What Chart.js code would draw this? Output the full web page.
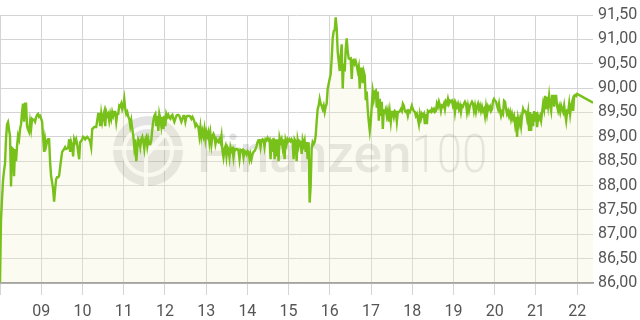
<!DOCTYPE html>
<html>
<head>
<meta charset="utf-8">
<script src="https://cdn.jsdelivr.net/npm/chart.js@4"></script>
<style>
  html, body { margin: 0; padding: 0; background: #fff; }
</style>
</head>
<body>
<canvas id="kurs" width="640" height="320"></canvas>
<script>
// Intraday-Kurs, ein Wert alle 87,5 Sekunden ab 08:00
const startHour = 8;
const sampleSeconds = 87.5;
const prices = [
  86.02, 87.30, 87.71, 88.10, 88.30, 88.45, 88.95, 89.25, 89.30, 89.15,
  89.02, 87.98, 88.77, 88.75, 88.19, 88.75, 88.50, 88.81, 89.02, 88.95,
  89.16, 89.26, 89.51, 89.68, 89.31, 89.68, 89.68, 89.22, 89.15, 89.10,
  89.31, 89.16, 89.37, 89.35, 89.35, 89.31, 89.40, 89.45, 89.47, 89.41,
  89.43, 89.38, 89.31, 89.00, 88.69, 88.95, 88.81, 88.90, 88.95, 88.95,
  88.48, 88.19, 88.07, 87.92, 87.67, 87.92, 88.13, 88.17, 88.17, 88.20,
  88.38, 88.54, 88.69, 88.72, 88.75, 88.79, 88.75, 88.76, 88.77, 88.95,
  88.69, 88.89, 88.81, 88.60, 88.95, 88.89, 88.95, 88.85, 88.69, 88.54,
  88.89, 88.91, 88.95, 89.00, 88.98, 88.95, 88.98, 89.00, 88.97, 88.95,
  88.90, 88.79, 89.16, 89.18, 89.20, 89.20, 89.20, 89.33, 89.47, 89.47,
  89.22, 89.47, 89.31, 89.43, 89.51, 89.22, 89.51, 89.43, 89.47, 89.33,
  89.47, 89.37, 89.51, 89.43, 89.51, 89.51, 89.31, 89.47, 89.47, 89.64,
  89.62, 89.68, 89.57, 89.64, 89.78, 89.57, 89.47, 89.51, 89.41, 89.37,
  89.22, 89.33, 89.16, 89.02, 88.79, 88.95, 88.50, 88.75, 88.95, 88.91,
  88.79, 88.95, 89.00, 88.89, 88.75, 88.95, 89.00, 88.81, 88.95, 88.85,
  88.85, 88.93, 89.16, 89.33, 89.43, 89.47, 89.22, 89.43, 89.12, 89.47,
  89.37, 89.22, 89.41, 89.16, 89.43, 89.22, 89.47, 89.41, 89.45, 89.39,
  89.37, 89.43, 89.45, 89.37, 89.31, 89.37, 89.43, 89.45, 89.45, 89.43,
  89.37, 89.31, 89.37, 89.43, 89.43, 89.31, 89.41, 89.43, 89.43, 89.43,
  89.41, 89.37, 89.41, 89.37, 89.31, 89.22, 89.26, 89.22, 89.20, 89.02,
  89.20, 89.00, 89.12, 89.02, 89.16, 88.95, 89.10, 89.02, 89.10, 88.89,
  89.06, 88.85, 89.02, 89.06, 89.00, 88.85, 88.95, 88.91, 88.89, 88.95,
  88.89, 89.02, 88.71, 88.58, 88.75, 88.81, 88.60, 88.79, 88.75, 88.58,
  88.79, 88.71, 88.75, 88.58, 88.75, 88.73, 88.75, 88.75, 88.71, 88.54,
  88.73, 88.71, 88.73, 88.58, 88.71, 88.69, 88.64, 88.71, 88.69, 88.54,
  88.64, 88.54, 88.64, 88.69, 88.71, 88.75, 88.81, 88.89, 88.93, 88.93,
  88.79, 88.93, 88.95, 88.93, 88.79, 88.95, 88.93, 88.98, 88.93, 88.95,
  88.54, 88.95, 88.69, 88.98, 88.54, 88.95, 88.60, 88.95, 88.50, 88.98,
  88.89, 88.95, 88.79, 88.95, 88.54, 88.93, 88.85, 88.95, 88.91, 88.95,
  88.91, 88.95, 88.91, 88.54, 88.95, 88.91, 88.50, 88.93, 88.81, 88.91,
  88.89, 88.65, 88.93, 88.83, 88.92, 88.69, 88.89, 88.54, 88.89, 87.65,
  87.98, 88.75, 88.89, 88.85, 88.89, 89.02, 89.31, 89.57, 89.64, 89.78,
  89.68, 89.64, 89.57, 89.64, 89.51, 89.62, 89.68, 89.99, 90.09, 90.19,
  90.28, 90.61, 91.02, 91.17, 91.19, 91.45, 91.23, 90.75, 90.55, 90.35,
  90.67, 90.90, 89.99, 90.50, 90.34, 90.80, 91.02, 90.75, 90.61, 90.60,
  90.61, 90.19, 90.57, 90.58, 90.50, 90.55, 90.46, 90.35, 90.44, 89.99,
  90.40, 90.40, 90.10, 90.34, 90.26, 89.75, 89.93, 89.55, 89.31, 89.12,
  89.31, 89.64, 89.93, 89.78, 89.93, 89.95, 89.60, 89.93, 89.33, 89.78,
  89.43, 89.72, 89.16, 89.53, 89.51, 89.57, 89.43, 89.53, 89.31, 89.51,
  89.31, 89.51, 89.51, 89.41, 89.53, 89.51, 89.31, 89.51, 89.51, 89.53,
  89.57, 89.53, 89.68, 89.64, 89.53, 89.51, 89.53, 89.43, 89.53, 89.51,
  89.57, 89.64, 89.57, 89.53, 89.51, 89.43, 89.47, 89.37, 89.26, 89.47,
  89.37, 89.47, 89.43, 89.47, 89.26, 89.47, 89.26, 89.53, 89.51, 89.53,
  89.51, 89.57, 89.53, 89.57, 89.51, 89.53, 89.68, 89.62, 89.72, 89.64,
  89.53, 89.64, 89.62, 89.68, 89.57, 89.72, 89.68, 89.78, 89.68, 89.74,
  89.72, 89.74, 89.64, 89.70, 89.51, 89.68, 89.62, 89.68, 89.57, 89.64,
  89.51, 89.64, 89.62, 89.68, 89.72, 89.68, 89.51, 89.64, 89.53, 89.64,
  89.68, 89.72, 89.68, 89.53, 89.64, 89.51, 89.62, 89.68, 89.57, 89.64,
  89.53, 89.62, 89.53, 89.57, 89.43, 89.62, 89.47, 89.62, 89.57, 89.62,
  89.53, 89.57, 89.74, 89.78, 89.74, 89.72, 89.64, 89.57, 89.68, 89.53,
  89.43, 89.51, 89.47, 89.74, 89.72, 89.57, 89.47, 89.53, 89.43, 89.51,
  89.37, 89.47, 89.37, 89.43, 89.26, 89.41, 89.00, 89.37, 89.26, 89.37,
  89.22, 89.43, 89.57, 89.51, 89.53, 89.51, 89.38, 89.51, 89.12, 89.51,
  89.12, 89.47, 89.22, 89.53, 89.31, 89.51, 89.20, 89.43, 89.37, 89.43,
  89.33, 89.51, 89.68, 89.57, 89.84, 89.57, 89.82, 89.64, 89.84, 89.64,
  89.53, 89.84, 89.84, 89.62, 89.84, 89.84, 89.62, 89.53, 89.62, 89.51,
  89.64, 89.57, 89.51, 89.64, 89.47, 89.33, 89.53, 89.51, 89.68, 89.47,
  89.64, 89.72, 89.53, 89.84, 89.86, 89.84, 89.88
];
// letzter Kurs um 22:23
const lastQuote = { hour: 22 + 23 / 60, price: 89.70 };

const hourTicks = [8, 9, 10, 11, 12, 13, 14, 15, 16, 17, 18, 19, 20, 21, 22];
const yMin = 86.0;
const yMax = 91.5;
const yStep = 0.5;

const points = prices.map((p, i) => ({ x: startHour + i * sampleSeconds / 3600, y: p }));
points.push({ x: lastQuote.hour, y: lastQuote.price });

// Wasserzeichen "finanzen100"
const watermark = {
  id: 'watermark',
  beforeDatasetsDraw(chart) {
    const ctx = chart.ctx;
    ctx.save();
    const cx = 148, cy = 151, r = 35;
    ctx.fillStyle = 'rgba(0,0,0,0.11)';
    ctx.beginPath();
    ctx.arc(cx, cy, r, 0, Math.PI * 2);
    ctx.fill();
    ctx.strokeStyle = 'rgba(255,255,255,0.85)';
    ctx.lineWidth = 4;
    ctx.beginPath();
    ctx.arc(cx, cy, r - 11, 0, Math.PI * 2);
    ctx.stroke();
    ctx.beginPath();
    ctx.moveTo(cx - r, cy - 3); ctx.lineTo(cx + r, cy - 3);
    ctx.moveTo(cx - 2, cy - 3); ctx.lineTo(cx - 2, cy + r);
    ctx.stroke();
    ctx.lineWidth = 5;
    ctx.beginPath();
    ctx.moveTo(cx - 14, cy - 14); ctx.lineTo(cx, cy + 2); ctx.lineTo(cx + 16, cy - 16);
    ctx.stroke();

    ctx.fillStyle = 'rgba(0,0,0,0.11)';
    ctx.textBaseline = 'alphabetic';
    ctx.font = '500 53px Roboto';
    ctx.fillText('Finanzen', 197, 172);
    const w = ctx.measureText('Finanzen').width;
    ctx.translate(197 + w, 172);
    ctx.scale(0.86, 1);
    ctx.font = '300 53px Roboto';
    ctx.fillText('100', 0, 0);
    ctx.restore();
  }
};

new Chart(document.getElementById('kurs'), {
  type: 'line',
  data: {
    datasets: [{
      data: points,
      borderColor: '#78c01a',
      borderWidth: 2.4,
      backgroundColor: 'rgba(240,240,200,0.25)',
      fill: 'start',
      pointRadius: 0,
      tension: 0
    }]
  },
  options: {
    responsive: false,
    animation: false,
    devicePixelRatio: 1,
    parsing: false,
    layout: { padding: { top: 15, left: 0, right: 0, bottom: 0 } },
    plugins: { legend: { display: false }, tooltip: { enabled: false } },
    scales: {
      x: {
        type: 'linear',
        min: startHour,
        max: lastQuote.hour,
        afterBuildTicks: (scale) => { scale.ticks = hourTicks.map(v => ({ value: v })); },
        afterFit: (scale) => {
          scale.height = 37;
          scale.paddingLeft = 0;
          scale.paddingRight = 0;
        },
        ticks: {
          autoSkip: false,
          maxRotation: 0,
          padding: 7,
          color: '#555',
          font: { family: 'Roboto', size: 16 },
          callback: (v) => v === startHour ? '' : String(v).padStart(2, '0')
        },
        grid: { color: '#d4d4d4', tickLength: 12 },
        border: { color: '#8c8c8c', width: 1.5 }
      },
      y: {
        position: 'right',
        min: yMin,
        max: yMax,
        afterFit: (scale) => { scale.width = 47; },
        ticks: {
          stepSize: yStep,
          padding: 5,
          color: '#555',
          font: { family: 'Roboto', size: 16 },
          callback: (v) => v.toFixed(2).replace('.', ',')
        },
        grid: { color: '#d4d4d4', drawTicks: false },
        border: { display: false }
      }
    }
  },
  plugins: [watermark]
});
</script>
</body>
</html>
